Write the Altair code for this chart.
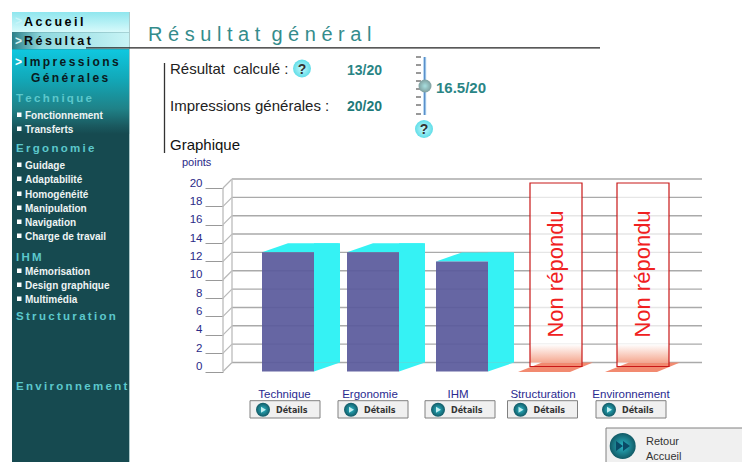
import altair as alt
import pandas as pd

TS = "\u2009"
NB = "\u00a0"

def spaced(s, gap=TS):
    return gap.join(list(s))

# ---- chart values
CATEGORIES = ["Technique", "Ergonomie", "IHM", "Structuration", "Environnement"]
SCORES = [13, 13, 12]
NOT_ANSWERED = ["Structuration", "Environnement"]
NOT_ANSWERED_TEXT = "Non répondu"
TICKS = list(range(0, 21, 2))
MAX_SCORE = 20
BUTTON_TEXT = "Détails"
TITLE = "R é s u l t a t " + NB + "g é n é r a l"
CALC_LABEL = "Résultat" + NB + NB + "calculé :"
IMPR_LABEL = "Impressions générales :"
GRAPH_LABEL = "Graphique"
Y_TITLE = "points"
CALC_VALUE = "13/20"
IMPR_VALUE = "20/20"
SLIDER_VALUE = "16.5/20"
NAV_ITEMS = [
    ("Fonctionnement", 119), ("Transferts", 133),
    ("Guidage", 169), ("Adaptabilité", 183), ("Homogénéité", 198),
    ("Manipulation", 212), ("Navigation", 226), ("Charge de travail", 240),
    ("Mémorisation", 275), ("Design graphique", 289), ("Multimédia", 303),
]
NAV_HEADS = [
    ("Technique", 102), ("Ergonomie", 152), ("IHM", 261),
    ("Structuration", 320), ("Environnement", 390),
]
SLIDER_TICKS = [57, 65, 73, 81, 89, 97, 105, 114]

# ---- layout (page pixels; the plot area starts at the 8px page margin)
M = 8
BAR_CENTERS = [288, 373, 462, 556, 643]
LABEL_CENTERS = [284.5, 370, 458, 543, 631]
BUTTON_LEFTS = [250, 338, 425, 507.5, 596]
Y0, Y20 = 371.5, 188
FONT = "Liberation Sans"
IDX = list(range(len(CATEGORIES)))

def pos_scale(px):
    return alt.Scale(domain=IDX, range=[p - M for p in px], padding=0)

BAR_X = alt.X("i:Q", scale=pos_scale(BAR_CENTERS), axis=None)
LABEL_X = alt.X("i:Q", scale=pos_scale(LABEL_CENTERS), axis=None)
BTN_X = alt.X("i:Q", scale=pos_scale(BUTTON_LEFTS), axis=None)
Y_SCALE = alt.Scale(domain=[0, MAX_SCORE], range=[Y0 - M, Y20 - M])
YQ = alt.Y("v:Q", scale=Y_SCALE, axis=None)
Y_ZERO = alt.Y(datum=0, scale=Y_SCALE, axis=None)

EMPTY = alt.Data(values=[{"a": 1}])
cat_df = pd.DataFrame({"i": IDX, "c": CATEGORIES})
ans_df = pd.DataFrame({"i": IDX[:len(SCORES)], "v": SCORES})
na_df = pd.DataFrame({"i": [CATEGORIES.index(c) for c in NOT_ANSWERED]})
na_df["v"] = MAX_SCORE
tick_df = pd.DataFrame({"v": TICKS})

def vx(x):
    return alt.value(x - M)

def vy(y):
    return alt.value(y - M)

def rect(x, x2, y, y2, **kw):
    return alt.Chart(EMPTY).mark_rect(**kw).encode(x=vx(x), x2=vx(x2), y=vy(y), y2=vy(y2))

def line(x, x2, y, y2, color, w=1.0):
    return alt.Chart(EMPTY).mark_rule(color=color, strokeWidth=w).encode(
        x=vx(x), x2=vx(x2), y=vy(y), y2=vy(y2))

def text(s, x, y, size, color, weight="normal", font=FONT, align="left", **kw):
    return alt.Chart(EMPTY).mark_text(text=s, fontSize=size, color=color, fontWeight=weight,
                                      font=font, align=align, baseline="alphabetic", **kw
                                      ).encode(x=vx(x), y=vy(y))

def dot(x, y, d, fill, **kw):
    return alt.Chart(EMPTY).mark_point(shape="circle", filled=True, size=d * d, color=fill,
                                       opacity=1, **kw).encode(x=vx(x), y=vy(y))

def vgrad(stops):
    return {"gradient": "linear", "x1": 0, "x2": 0, "y1": 0, "y2": 1,
            "stops": [{"offset": o, "color": c} for o, c in stops]}

def hgrad(stops):
    return {"gradient": "linear", "x1": 0, "x2": 1, "y1": 0, "y2": 0,
            "stops": [{"offset": o, "color": c} for o, c in stops]}

def rgrad(inner, outer):
    return {"gradient": "radial", "x1": 0.5, "y1": 0.5, "x2": 0.5, "y2": 0.5, "r1": 0, "r2": 0.5,
            "stops": [{"offset": 0, "color": inner}, {"offset": 1, "color": outer}]}

def help_icon(x, y):
    return [dot(x, y, 18, rgrad("#c8fafc", "#5fdde8")),
            text("?", x, y + 5, 14, "#333333", "bold", align="center")]

layers = []

# ---- sidebar
SIDE = "#164a50"
layers += [
    rect(12, 129.3, 12, 462, color=SIDE),
    rect(12, 129.3, 12, 32.3, color=vgrad([(0, "#8fe6ee"), (1, "#d8fafb")])),
    rect(12, 129.3, 32.3, 49.3, color=hgrad([(0, "#2a7f88"), (0.25, "#8fd8de"), (1, "#c8f4f6")])),
    rect(12, 129.3, 49.3, 134, color=vgrad([(0, "#0fc8e0"), (0.35, "#12a8b8"), (0.7, "#1f8288"), (0.9, "#1a5a60"), (1, SIDE)])),
    rect(129.3, 130, 12, 462, color="#a8c8c8"),
    text(">", 15, 25, 12, "#c8f4f8", "bold"),
    text(spaced("Accueil"), 24, 26, 12.5, "#000000", "bold"),
    text(">", 15, 45, 12, "#d8f0f0", "bold"),
    text(spaced("Résultat"), 24, 45, 12.5, "#0a0a0a", "bold"),
    text(">", 15, 66, 12, "#ffffff", "bold"),
    text(spaced("Impressions"), 24, 66, 12, "#0a1a20", "bold"),
    text(spaced("Générales"), 31, 82, 12, "#0a1a20", "bold"),
]
for s, y in NAV_HEADS:
    layers.append(text(spaced(s), 16, y, 11.5, "#5cc8cc", "bold"))
for s, y in NAV_ITEMS:
    layers.append(text(s, 25, y, 10, "#eef4f4", "bold"))
    layers.append(rect(17, 21.5, y - 6.5, y - 2, color="#ffffff"))

# ---- header
layers += [
    text(TITLE, 148, 41, 20, "#348c8c"),
    line(86, 600, 47.8, 47.8, "#222222", 1.3),
    line(164.5, 164.5, 63, 153, "#333333", 1.3),
    text(CALC_LABEL, 170, 74, 15, "#222222"),
    text(IMPR_LABEL, 170, 111, 15, "#222222"),
    text(GRAPH_LABEL, 170, 150, 15, "#111111"),
    text(CALC_VALUE, 347, 75, 14, "#2a8585", "bold"),
    text(IMPR_VALUE, 347, 111, 14, "#1f7a7a", "bold"),
    text(SLIDER_VALUE, 436, 93, 15, "#2a8585", "bold"),
    text(Y_TITLE, 182, 166, 11, "#2a2a88"),
    line(424.7, 424.7, 57, 115, "#a8d0f0", 3),
    line(424.7, 424.7, 57, 115, "#4a80c0", 1),
]
for t in SLIDER_TICKS:
    layers.append(line(416, 421, t, t, "#333333", 1))
layers += [dot(425, 86, 13, rgrad("#a8e0e0", "#7f9f9f"))]
layers += help_icon(302, 68.5)
layers += help_icon(424, 129)

# ---- 3D grid
GRID = "#aaaaaa"
grid_axis = alt.Chart(tick_df).mark_rule(color=GRID, strokeWidth=1.4, yOffset=-9).encode(
    y=alt.Y("v:Q", scale=Y_SCALE, axis=alt.Axis(
        values=TICKS, orient="left", offset=-(223 - M), domain=False, grid=False, tickSize=18,
        tickColor="#999999", tickWidth=1, labelColor="#2a2a88", labelFont=FONT, labelFontSize=11.5,
        labelPadding=3, labelOffset=-5, title=None)),
    x=vx(232), x2=vx(702))
slant = alt.Chart(tick_df).mark_rule(color="#b8b8b8", strokeWidth=1.2, y2Offset=-9).encode(
    y=YQ, y2=alt.Y2("v:Q"), x=vx(223), x2=vx(232))
front_wall = alt.Chart(EMPTY).mark_rule(color="#c0c0c0", strokeWidth=1.4).encode(
    x=vx(223), y=Y_ZERO, y2=alt.Y2(datum=MAX_SCORE))
back_wall = alt.Chart(EMPTY).mark_rule(color="#c0c0c0", strokeWidth=1.4, yOffset=-9, y2Offset=-9).encode(
    x=vx(232), y=Y_ZERO, y2=alt.Y2(datum=MAX_SCORE))
layers += [grid_axis, slant, front_wall, back_wall]

# ---- answered bars
CYAN = "#35f2f4"
BAR_W = 52
layers += [
    alt.Chart(ans_df).mark_bar(color=CYAN, size=26, orient="vertical", xOffset=39, yOffset=-9, y2Offset=-9).encode(
        x=BAR_X, y=YQ, y2=alt.Y2(datum=0)),
    alt.Chart(ans_df).mark_point(shape="M-26,0 L0,-9 L52,-9 L26,0 Z", size=4, filled=True, color=CYAN, opacity=1).encode(x=BAR_X, y=YQ),
    alt.Chart(ans_df).mark_point(shape="M26,0 L52,-9 L26,-9 Z", size=4, filled=True, color=CYAN, opacity=1).encode(
        x=BAR_X, y=Y_ZERO),
    alt.Chart(ans_df).mark_bar(color="#5a5a9c", opacity=0.93, size=BAR_W, orient="vertical").encode(
        x=BAR_X, y=YQ, y2=alt.Y2(datum=0)),
]

# ---- not answered bars
layers += [
    alt.Chart(na_df).mark_bar(color="#ffffff", opacity=0.7, size=BAR_W, orient="vertical", yOffset=-5, y2Offset=-5).encode(
        x=BAR_X, y=YQ, y2=alt.Y2(datum=0)),
    alt.Chart(na_df).mark_bar(color=vgrad([(0, "#ffffff"), (1, "#f5a890")]), size=BAR_W, orient="vertical", yOffset=-9, y2Offset=-9).encode(
        x=BAR_X, y=alt.Y(datum=2, scale=Y_SCALE, axis=None), y2=alt.Y2(datum=0)),
    alt.Chart(na_df).mark_point(shape="M-38,0.5 L-14,-9 L37,-9 L14,0.5 Z", size=4, filled=True, color="#f28a70", opacity=1).encode(
        x=BAR_X, y=Y_ZERO),
    alt.Chart(na_df).mark_bar(filled=False, stroke="#c81818", strokeWidth=1.2, size=BAR_W, orient="vertical", yOffset=-5, y2Offset=-5).encode(
        x=BAR_X, y=YQ, y2=alt.Y2(datum=0)),
    alt.Chart(na_df).mark_text(text=NOT_ANSWERED_TEXT, angle=270, font=FONT, fontSize=22,
                               color="#f02020", align="center", baseline="middle").encode(x=BAR_X, y=vy(274)),
]

# ---- category labels and detail buttons
icon_shape = "M-2,-3 L3,0 L-2,3 Z"
layers += [
    alt.Chart(cat_df).mark_text(font=FONT, fontSize=11.5, color="#2a2a90", align="center", baseline="alphabetic").encode(
        x=LABEL_X, y=vy(398), text="c:N"),
    alt.Chart(cat_df).mark_bar(color="#f0f0f0", stroke="#808080", strokeWidth=1, size=70, orient="vertical", xOffset=35).encode(
        x=BTN_X, y=vy(400.7), y2=vy(418)),
    alt.Chart(cat_df).mark_point(shape="circle", filled=True, size=196, opacity=1, xOffset=13, color=rgrad("#2ab8c8", "#125a66")).encode(
        x=BTN_X, y=vy(409.7)),
    alt.Chart(cat_df).mark_point(shape=icon_shape, filled=True, size=4, opacity=1, xOffset=13, color="#bfeef0").encode(
        x=BTN_X, y=vy(409.7)),
    alt.Chart(cat_df).mark_text(text=BUTTON_TEXT, font="DejaVu Sans", fontWeight="bold", fontSize=8, color="#333333",
                                align="left", baseline="alphabetic", dx=26).encode(x=BTN_X, y=vy(412.5)),
]

# ---- return button
layers += [
    rect(606, 751, 428, 463, color="#f0f0f0", stroke="#808080", strokeWidth=1),
    dot(622.7, 446, 26, rgrad("#2ab8c8", "#125a66")),
    alt.Chart(EMPTY).mark_point(shape="M-7,-5 L0,0 L-7,5 Z M0,-5 L7,0 L0,5 Z", filled=True, size=4, opacity=1, color="#0a4a66").encode(
        x=vx(623), y=vy(446)),
    text("Retour", 646, 445, 11, "#333333"),
    text("Accueil", 646, 460, 11, "#333333"),
]

chart = alt.layer(*layers).resolve_scale(x="independent").resolve_axis(y="independent").properties(
    width=734, height=462 - M, padding=0, autosize=alt.AutoSizeParams(type="none"), background="#ffffff"
).configure_view(stroke=None)

chart.save("out.html", embed_options={"renderer": "svg", "actions": False})
